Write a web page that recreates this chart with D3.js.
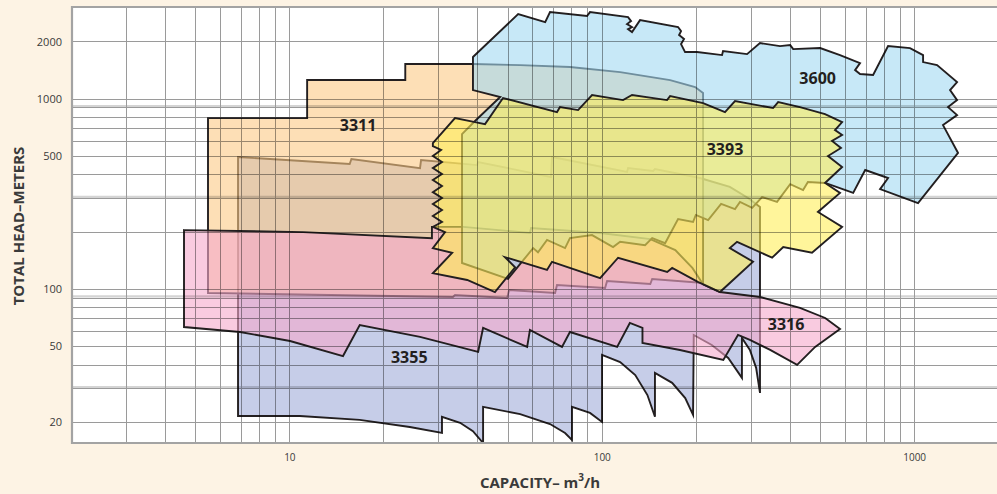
<!DOCTYPE html>
<html><head><meta charset="utf-8">
<script src="https://cdn.jsdelivr.net/npm/d3@7"></script>
<style>
body{margin:0;background:#FDF3E4;}
svg{display:block;}
text{font-family:"Open Sans","Noto Sans",sans-serif;}
</style></head><body>
<svg id="c" width="997" height="494"></svg>
<script>
// Capacity (m3/h), Total head (m) boundary points of each pump family coverage
const pump3355 = [[6.85,494],[15.6,454],[15.8,482],[26.2,432],[26.4,476],[39.9,448],[40.2,465],[68.8,388],[69.3,494],[120.5,412],[121.4,432],[146,417],[148,427],[206,383],[257,344],[294,301],[321,270],[321,28.4],[312,38.5],[298,47.8],[281,55.3],[281,34.1],[254,43.4],[225,50.8],[197,57.3],[196,21.8],[185,26.7],[168,32.1],[148,36.2],[148,21.3],[140,27.7],[128,35.3],[114.5,41.3],[100.2,45.0],[100.2,20.0],[91.7,22.3],[80.3,24.0],[80.3,16.1],[76.3,17.5],[68.3,19.5],[54.8,22.0],[41.7,24.0],[41.7,15.5],[38.7,17.9],[35.2,19.8],[30.8,21.3],[30.8,17.5],[24.3,18.8],[16.8,20.5],[10.8,21.5],[6.85,21.5]];
const pump3311 = [[5.49,791],[11.4,791],[11.4,1254],[23.5,1254],[23.5,1522],[38.7,1522],[54.8,1503],[79.1,1468],[114.5,1381],[165.5,1254],[199,1152],[211,1072],[211,107.5],[145,112.9],[143,106.2],[104,110.2],[102.5,101.2],[71.9,105],[70.9,95.3],[50.5,98.8],[49.8,89.7],[33.9,93],[33.4,90.8],[5.49,95.3]];
const pump3316 = [[4.60,204],[11.07,199],[28.6,185],[28.6,212],[36.0,212],[58.9,197],[59.4,209],[98.8,197],[143,183],[172,160],[195,129],[211,106],[239,96.4],[321,90.8],[431,79.5],[519,70.4],[579,61.6],[482,49.6],[422,39.9],[346,47.8],[298,54.0],[273,57.3],[245,42.4],[178,47.8],[135,52.0],[135,62.4],[123,66.3],[112,49.6],[79.1,59.4],[74.6,49.6],[58.9,60.9],[57.7,49.6],[41.7,62.4],[40.2,46.7],[26.2,56.0],[16.8,64.7],[14.85,44.4],[10.05,53.3],[6.95,59.4],[4.60,63.1]];
const pump3600 = [[38.7,1657],[54.0,2787],[65.9,2530],[68.3,2855],[89.7,2721],[91.7,2855],[121.4,2688],[124.1,2560],[120.5,2470],[125.0,2382],[121.4,2325],[125.0,2242],[132.6,2591],[175.5,2382],[179.4,2269],[176.8,2162],[183.4,2060],[179.4,1939],[184.8,1760],[201.8,1760],[242.7,1697],[244.5,1781],[291.8,1717],[321,1962],[372,1892],[401,1915],[410,1824],[500,1847],[579,1697],[671,1540],[647,1415],[671,1349],[739,1333],[825,1892],[970,1847],[1068,1697],[1068,1559],[1184,1503],[1372,1224],[1303,1111],[1372,984],[1284,904],[1372,821],[1237,727],[1382,519],[1029,283],[778,335],[825,383],[697,422],[638,320],[519,361],[457,365],[441,331],[401,356],[364,287],[326,304],[303,267],[277,287],[267,263],[241,280],[219,230],[200,245],[196,225],[175.5,233],[159.5,174],[145,185],[137.6,170],[114.5,177],[108.7,166],[93.1,192],[79.1,185],[76.3,164],[66.8,181],[62.5,156],[60.3,164],[50.1,113],[35.7,137],[35.7,652],[39.3,764],[47.3,1021],[38.7,1111]];
const pump3393 = [[28.8,585],[33.9,791],[39.3,754],[42.3,736],[48.3,1009],[71.9,851],[73.5,904],[84.0,872],[93.1,1046],[117,984],[125,1046],[161.8,984],[165.5,1033],[211,949],[248,851],[267,972],[353.5,894],[367,961],[431,904],[518.5,831],[588,754],[558,685],[588,645],[546,600],[583,551],[530,500],[588,438],[518.5,361],[579,320],[492,254],[588,212],[471,155],[381,166],[351,146],[271,177],[257,164],[305,139],[239,96.4],[203,109],[168,129],[162,123],[112.8,146],[98.8,114],[69.3,139],[66.8,126],[49.0,147],[52.8,130],[45.5,96.4],[37.1,111.5],[28.8,121],[33.2,155],[28.8,164],[31.5,199],[28.8,212],[30.8,225],[28.8,242],[30.8,260],[28.8,280],[30.8,301],[28.8,323],[30.8,348],[28.8,374],[30.8,402],[28.8,432],[30.8,465],[28.8,500],[30.6,538],[28.8,564]];

const familyNames = ["3355","3311","3316","3600","3393"];
const familyColors = ["#A0ACD9","#FCCA85","#F5A8CB","#A2D9F2","#FFEE58"];
const labelQ = [24.2,16.6,389,491,248];
const labelH = [43.8,727,65.5,1289,542];

const xTicks = [10,100,1000];
const yTicks = [20,50,100,500,1000,2000];
const xGrid = [3,4,5,6,7,8,9,10,20,30,40,50,60,70,80,90,100,200,300,400,500,600,700,800,900,1000];
const yGrid = [20,30,40,50,60,70,80,90,100,200,300,400,500,600,700,800,900,1000,2000];
const yGridLight = [30.5,91.4,305,914];
const xGridLight = [];

const svg = d3.select("#c");
const W = 997, H = 494;
const x = d3.scaleLog().domain([2,2000]).range([71,1008.2]);
const y = d3.scaleLog().domain([15.5,3000]).range([443,8]);
const L = 72, T = 7, B = 443, R = 1010;

svg.append("rect").attr("width",W).attr("height",H).attr("fill","#FDF3E4");
svg.append("defs").append("clipPath").attr("id","plot")
  .append("rect").attr("x",L).attr("y",T).attr("width",R-L).attr("height",B-T);
svg.append("rect").attr("x",L).attr("y",T).attr("width",R-L).attr("height",B-T).attr("fill","#fff");

const g = svg.append("g").attr("clip-path","url(#plot)");

const line = d3.line().x(d=>x(d[0])).y(d=>y(d[1])).curve(d3.curveLinearClosed);
const pumps = [pump3355,pump3311,pump3316,pump3600,pump3393];
pumps.forEach((p,i)=>{
  g.append("path").attr("d",line(p))
    .attr("fill",familyColors[i]).attr("fill-opacity",0.6)
    .attr("stroke","#231F20").attr("stroke-width",1.9).attr("stroke-linejoin","miter").attr("stroke-miterlimit",6);
});

// grid on top with multiply
const grid = g.append("g").style("mix-blend-mode","multiply");
grid.selectAll(".ylt").data(yGridLight).join("line")
  .attr("x1",L).attr("x2",R).attr("y1",d=>y(d)).attr("y2",d=>y(d))
  .attr("stroke","#d4d4d4").attr("stroke-width",2.2);
grid.selectAll(".yg").data(yGrid).join("line")
  .attr("x1",L).attr("x2",R).attr("y1",d=>Math.round(y(d))+0.5).attr("y2",d=>Math.round(y(d))+0.5)
  .attr("stroke","#9a9a9a").attr("stroke-width",1);
grid.selectAll(".xg").data(xGrid).join("line")
  .attr("y1",T).attr("y2",B).attr("x1",d=>Math.round(x(d))+0.5).attr("x2",d=>Math.round(x(d))+0.5)
  .attr("stroke","#9a9a9a").attr("stroke-width",1);

// labels
familyNames.forEach((n,i)=>{
  svg.append("text").attr("x",x(labelQ[i])).attr("y",y(labelH[i]))
    .attr("text-anchor","middle").attr("dominant-baseline","central")
    .attr("font-size",16).attr("font-weight",700).attr("fill","#231F20").text(n);
});

// frame
svg.append("path").attr("d",`M${R},${T}H${L}V${B}H${R}`).attr("fill","none")
  .attr("stroke","#A3A3A3").attr("stroke-width",2.2);

// axes
const yAxis = d3.axisLeft(y).tickValues(yTicks).tickSize(0).tickPadding(10).tickFormat(d3.format("d"));
const ya = svg.append("g").attr("transform",`translate(${L},0)`).call(yAxis);
ya.select(".domain").remove();
ya.selectAll("text").attr("font-size",11).attr("fill","#3a3a3a").style("font-family","'Open Sans',sans-serif");

const xAxis = d3.axisBottom(x).tickValues(xTicks).tickSize(0).tickPadding(11).tickFormat(d3.format("d"));
const xa = svg.append("g").attr("transform",`translate(0,${B})`).call(xAxis);
xa.select(".domain").remove();
xa.selectAll("text").attr("font-size",10).attr("fill","#3a3a3a").style("font-family","'Open Sans',sans-serif");

svg.append("text").attr("x",540).attr("y",482).attr("text-anchor","middle").attr("dominant-baseline","central")
  .attr("font-size",15).attr("font-weight",700).attr("fill","#3a3a3a")
  .html('CAPACITY– m<tspan dy="-5" font-size="10">3</tspan><tspan dy="5">/h</tspan>');
svg.append("text").attr("transform","translate(18,226) rotate(-90)").attr("text-anchor","middle").attr("dominant-baseline","central")
  .attr("font-size",15).attr("font-weight",700).attr("fill","#3a3a3a").text("TOTAL HEAD–METERS");
</script></body></html>
